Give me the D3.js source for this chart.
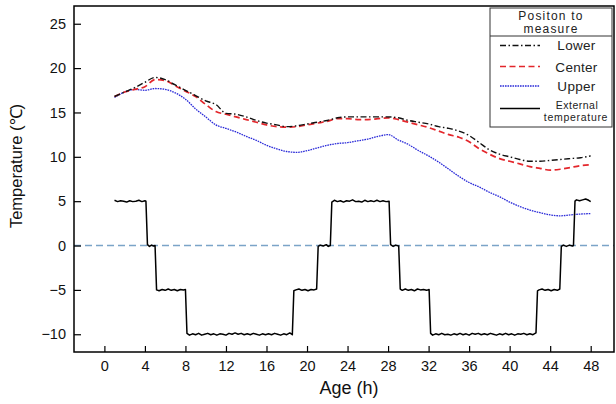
<!DOCTYPE html>
<html lang="en">
<head>
<meta charset="UTF-8">
<title>Temperature by position to measure</title>
<script src="https://d3js.org/d3.v7.min.js"></script>
<style>
  body { margin: 0; background: #fff; }
  svg { display: block; font-family: "Liberation Sans", Arial, sans-serif; }
  .legend text { font-family: "Liberation Sans", Arial, sans-serif; fill: #222; }
</style>
</head>
<body>
<svg id="chart" width="616" height="404"></svg>
<script>
// x positions (h) for the three probe series
const hours = [1, 2, 3, 4, 5, 6, 7, 8, 9, 10, 11, 12, 13, 14, 15, 16, 17, 18, 19, 20, 21, 22, 23, 24,
  25, 26, 27, 28, 29, 30, 31, 32, 33, 34, 35, 36, 37, 38, 39, 40, 41, 42, 43, 44, 45, 46, 47, 48];

const lower = [16.8, 17.3, 17.8, 18.4, 18.95, 18.7, 18.1, 17.5, 16.9, 16.3, 15.9, 14.9, 14.8, 14.5, 14.1, 13.8,
  13.6, 13.4, 13.5, 13.7, 13.9, 14.1, 14.4, 14.5, 14.5, 14.5, 14.5, 14.5, 14.4, 14.1, 13.9, 13.7,
  13.4, 13.2, 12.9, 12.4, 11.6, 10.8, 10.3, 10.0, 9.7, 9.5, 9.5, 9.6, 9.7, 9.8, 9.9, 10.1];

const center = [16.8, 17.3, 17.6, 17.9, 18.7, 18.6, 18.0, 17.4, 16.8, 15.9, 15.1, 14.8, 14.5, 14.2, 13.9, 13.6,
  13.4, 13.35, 13.4, 13.6, 13.8, 14.0, 14.3, 14.3, 14.2, 14.2, 14.3, 14.4, 14.2, 13.9, 13.6, 13.3,
  12.9, 12.5, 12.2, 11.7, 10.9, 10.3, 9.8, 9.5, 9.2, 8.9, 8.7, 8.5, 8.6, 8.8, 9.0, 9.1];

const upper = [16.7, 17.3, 17.6, 17.5, 17.7, 17.6, 17.2, 16.5, 15.4, 14.5, 13.6, 13.2, 12.8, 12.3, 11.85, 11.3,
  10.9, 10.6, 10.5, 10.7, 11.0, 11.3, 11.5, 11.6, 11.8, 12.0, 12.3, 12.5, 11.9, 11.4, 10.7, 10.1,
  9.4, 8.6, 7.8, 7.1, 6.6, 6.0, 5.5, 4.9, 4.4, 4.0, 3.7, 3.45, 3.35, 3.45, 3.55, 3.6];

// external temperature, read plateau by plateau
const extHours = [
  1.0, 1.3, 1.6, 1.9, 2.2, 2.5, 2.8, 3.1, 3.4, 3.7, 4.0, 4.1,
  4.25, 4.45, 4.65, 4.85, 5.0,
  5.15, 5.4, 5.7, 6.0, 6.3, 6.6, 6.9, 7.2, 7.5, 7.8, 8.0,
  8.15, 8.4, 8.7, 9.0, 9.3, 9.6, 9.9, 10.2, 10.5, 10.8, 11.1, 11.4, 11.7, 12.0, 12.3, 12.6, 12.9,
  13.2, 13.5, 13.8, 14.1, 14.4, 14.7, 15.0, 15.3, 15.6, 15.9, 16.2, 16.5, 16.8, 17.1, 17.4, 17.7,
  18.0, 18.3, 18.55,
  18.7, 18.9, 19.2, 19.5, 19.8, 20.1, 20.4, 20.7, 20.95,
  21.1, 21.3, 21.6, 21.9, 22.1, 22.3,
  22.45, 22.7, 23.0, 23.3, 23.6, 23.9, 24.2, 24.5, 24.8, 25.1, 25.4, 25.7, 26.0, 26.3, 26.6, 26.9,
  27.2, 27.5, 27.8, 28.1,
  28.25, 28.5, 28.75, 29.05,
  29.2, 29.4, 29.7, 30.0, 30.3, 30.6, 30.9, 31.2, 31.5, 31.8, 32.05,
  32.2, 32.4, 32.7, 33.0, 33.3, 33.6, 33.9, 34.2, 34.5, 34.8, 35.1, 35.4, 35.7, 36.0, 36.3, 36.6,
  36.9, 37.2, 37.5, 37.8, 38.1, 38.4, 38.7, 39.0, 39.3, 39.6, 39.9, 40.2, 40.5, 40.8, 41.1, 41.4,
  41.7, 42.0, 42.3, 42.6,
  42.75, 42.9, 43.2, 43.5, 43.8, 44.1, 44.4, 44.7, 44.95,
  45.1, 45.3, 45.6, 45.9, 46.2, 46.3,
  46.45, 46.6, 46.9, 47.2, 47.5, 47.8, 48.0
];
const extTemps = [
  5.1, 4.95, 5.05, 5.0, 4.9, 5.05, 4.95, 5.0, 5.1, 4.95, 5.05, 5.0,
  0.1, -0.1, 0.05, -0.05, 0.0,
  -5.0, -5.1, -4.95, -5.05, -4.9, -5.05, -4.95, -5.1, -4.95, -5.0, -4.95,
  -9.9, -10.1, -9.95, -10.05, -9.9, -10.1, -10.0, -9.9, -10.05, -9.95, -10.1, -9.95, -10.0, -10.1, -9.9, -10.0, -9.85,
  -10.0, -9.9, -10.05, -9.95, -10.05, -9.9, -10.0, -10.1, -9.95, -10.05, -9.95, -10.05, -9.9, -10.0, -10.1, -9.95,
  -10.05, -9.85, -10.05,
  -5.1, -5.0, -4.9, -5.05, -4.95, -5.1, -4.95, -5.0, -4.9,
  -0.1, 0.05, -0.05, 0.1, -0.1, 0.0,
  4.9, 5.1, 4.95, 5.05, 4.9, 5.05, 5.0, 5.15, 4.95, 5.0, 4.9, 5.1, 4.95, 5.05, 4.95, 5.1,
  4.95, 5.05, 4.95, 5.0,
  0.1, -0.1, 0.05, -0.05,
  -4.9, -5.05, -4.9, -5.05, -4.95, -5.1, -4.9, -5.0, -4.95, -5.05, -4.95,
  -9.9, -10.1, -9.95, -10.05, -9.9, -10.05, -10.0, -10.1, -9.95, -10.05, -9.9, -10.05, -9.95, -10.1, -9.9, -10.0,
  -9.9, -10.05, -9.95, -10.05, -9.9, -10.0, -10.1, -9.95, -10.05, -9.9, -10.05, -9.95, -10.1, -9.95, -10.0, -9.9,
  -10.05, -9.95, -10.05, -9.85,
  -5.1, -5.0, -4.9, -5.05, -4.95, -5.1, -4.95, -5.05, -4.9,
  -0.1, 0.05, -0.1, 0.05, -0.05, 0.0,
  5.0, 5.15, 5.05, 5.15, 5.25, 5.1, 4.95
];

const xTicks = [0, 4, 8, 12, 16, 20, 24, 28, 32, 36, 40, 44, 48];
const yTicks = [-10, -5, 0, 5, 10, 15, 20, 25];

const legendTitle = ["Positon to", "measure"];
const legendNames = ["Lower", "Center", "Upper", "External"];

const svg = d3.select("#chart");
const mLeft = 74, mRight = 614, mTop = 6, mBottom = 352;

const x = d3.scaleLinear().domain([-3, 50.3]).range([mLeft, mRight]);
const y = d3.scaleLinear().domain([-12, 27]).range([mBottom, mTop]);

// line styles
const styles = {
  Lower: { color: "#111", width: 1.4, dash: "6,2.5,1.5,2.5" },
  Center: { color: "#e3262b", width: 1.7, dash: "6,3.5" },
  Upper: { color: "#2a2ad8", width: 1.3, dash: "1.6,0.9" },
  External: { color: "#000", width: 1.5, dash: null }
};

// zero reference line
svg.append("line")
  .attr("x1", mLeft).attr("x2", mRight)
  .attr("y1", y(0)).attr("y2", y(0))
  .attr("stroke", "#7ba4c8")
  .attr("stroke-width", 1.4)
  .attr("stroke-dasharray", "7,4");

const smooth = d3.line()
  .x((d, i) => x(hours[i]))
  .y(d => y(d))
  .curve(d3.curveMonotoneX);

const series = [["Upper", upper], ["Center", center], ["Lower", lower]];
series.forEach(([name, vals]) => {
  const s = styles[name];
  svg.append("path")
    .attr("d", smooth(vals))
    .attr("fill", "none")
    .attr("stroke", s.color)
    .attr("stroke-width", s.width)
    .attr("stroke-dasharray", s.dash);
});

const stepLine = d3.line()
  .x((d, i) => x(extHours[i]))
  .y(d => y(d));

svg.append("path")
  .attr("d", stepLine(extTemps))
  .attr("fill", "none")
  .attr("stroke", styles.External.color)
  .attr("stroke-width", styles.External.width)
  .attr("stroke-linejoin", "round");

// axes (ticks point inward)
const xAxis = svg.append("g")
  .attr("transform", `translate(0,${mBottom})`)
  .call(d3.axisBottom(x).tickValues(xTicks).tickSize(-6).tickPadding(9));

const yAxis = svg.append("g")
  .attr("transform", `translate(${mLeft},0)`)
  .call(d3.axisLeft(y).tickValues(yTicks).tickSize(-7).tickPadding(8));

[xAxis, yAxis].forEach(g => {
  g.select(".domain").remove();
  g.selectAll("line").attr("stroke", "#000").attr("stroke-width", 1.2);
  g.selectAll("text")
    .attr("fill", "#111")
    .style("font-size", "14.5px")
    .style("font-family", "'Liberation Sans', Arial, sans-serif");
});

// plot frame
svg.append("rect")
  .attr("x", mLeft).attr("y", mTop)
  .attr("width", mRight - mLeft).attr("height", mBottom - mTop)
  .attr("fill", "none")
  .attr("stroke", "#000")
  .attr("stroke-width", 1.5);

// axis titles
svg.append("text")
  .attr("x", 349).attr("y", 394)
  .attr("text-anchor", "middle")
  .style("font-size", "18px")
  .attr("fill", "#111")
  .text("Age (h)");

svg.append("text")
  .attr("transform", "translate(22,166) rotate(-90)")
  .attr("text-anchor", "middle")
  .style("font-size", "16.5px")
  .attr("fill", "#111")
  .text("Temperature (℃)");

// legend
const lg = svg.append("g").attr("class", "legend");
lg.append("rect")
  .attr("x", 490).attr("y", 8)
  .attr("width", 122).attr("height", 119)
  .attr("fill", "#fff")
  .attr("stroke", "#333")
  .attr("stroke-width", 1);
lg.append("line")
  .attr("x1", 490).attr("x2", 612)
  .attr("y1", 36).attr("y2", 36)
  .attr("stroke", "#333");

lg.selectAll("text.title")
  .data(legendTitle)
  .join("text")
  .attr("class", "title")
  .attr("x", 551)
  .attr("y", (d, i) => 19.5 + i * 13.9)
  .attr("text-anchor", "middle")
  .style("font-size", "12px")
  .style("letter-spacing", "1.2px")
  .text(d => d);

const rowY = [45.5, 66.5, 86, 108.5];
const rowBase = [50, 71.5, 90.5];

legendNames.forEach((name, i) => {
  const s = styles[name];
  lg.append("line")
    .attr("x1", 500).attr("x2", 540)
    .attr("y1", rowY[i]).attr("y2", rowY[i])
    .attr("stroke", s.color)
    .attr("stroke-width", s.width)
    .attr("stroke-dasharray", s.dash);
  if (name === "External") {
    lg.append("text")
      .attr("x", 577).attr("y", 108.8)
      .attr("text-anchor", "middle")
      .style("font-size", "10.5px")
      .style("letter-spacing", "0.5px")
      .text("External");
    lg.append("text")
      .attr("x", 576).attr("y", 121.2)
      .attr("text-anchor", "middle")
      .style("font-size", "10.5px")
      .style("letter-spacing", "0.7px")
      .text("temperature");
  } else {
    lg.append("text")
      .attr("x", 576.5).attr("y", rowBase[i])
      .attr("text-anchor", "middle")
      .style("font-size", "13.5px")
      .style("letter-spacing", "0.3px")
      .text(name);
  }
});
</script>
</body>
</html>
